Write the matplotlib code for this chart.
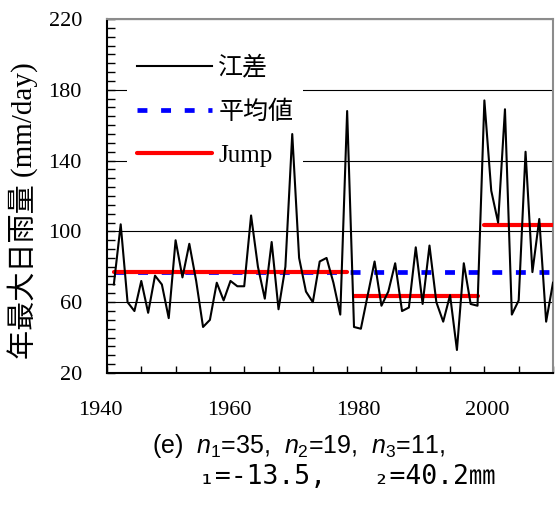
import numpy as np
import matplotlib
matplotlib.use("Agg")
import matplotlib.pyplot as plt
from matplotlib.ticker import MultipleLocator, FixedLocator, NullFormatter
from matplotlib.font_manager import FontProperties
from matplotlib.transforms import blended_transform_factory, offset_copy

# Annual maximum daily rainfall at Esashi, 1941-2005
years = list(range(1941, 2006))
rain = [70, 104, 60, 55, 72, 54, 75, 70, 51, 95, 74, 93, 72, 46, 50, 71, 61, 72,
        69, 69, 109, 80, 62, 94, 56, 80, 155, 85, 66, 60, 83, 85, 71, 53, 168,
        46, 45, 64, 83, 58, 66, 82, 55, 57, 91, 59, 92, 60, 49, 64, 33, 82, 59, 58,
        174, 123, 105, 169, 53, 61, 145, 77, 107, 49, 71]
segment_sizes = [35, 19, 11]
jumps = [-13.5, 40.2]

y_ticks = [20, 60, 100, 140, 180, 220]
x_tick_labels = [1940, 1960, 1980, 2000]
legend_labels = ["江差", "平均値", "Jump"]
y_label = "年最大日雨量 (mm/day)"

plt.rcParams["mathtext.fontset"] = "custom"
plt.rcParams["mathtext.rm"] = "Liberation Sans"
plt.rcParams["mathtext.it"] = "Liberation Sans:italic"

serif_cjk = ["Liberation Serif", "Noto Sans CJK JP"]

fig = plt.figure(figsize=(5.56, 5.05), dpi=100)
ax = fig.add_axes([0.1924, 0.2614, 0.8022, 0.7010])

# series
(l_obs,) = ax.plot(years, rain, color="black", lw=1.5, zorder=5)

mean_all = float(np.mean(rain))
(l_mean,) = ax.plot([years[0], years[-1]], [mean_all, mean_all], color="#0000ff",
                    lw=3.4, linestyle=(0, (2.1, 2.9)), dash_capstyle="butt", zorder=3)

# jump levels: first segment mean, then shifted by each jump
starts = np.cumsum([0] + segment_sizes[:-1])
levels = [float(np.mean(rain[:segment_sizes[0]]))]
for j in jumps:
    levels.append(levels[-1] + j)
l_jump = None
for s, n, lev in zip(starts, segment_sizes, levels):
    (l_jump,) = ax.plot([years[s], years[s + n - 1]], [lev, lev], color="#ff0000",
                        lw=3.0, solid_capstyle="round", zorder=4)

ax.set_xlim(1940, 2005)
ax.set_ylim(20, 220)

# axes styling
for side in ("left", "bottom"):
    ax.spines[side].set_color("black")
    ax.spines[side].set_linewidth(1.5)
for side in ("top", "right"):
    ax.spines[side].set_color("#8c8c8c")
    ax.spines[side].set_linewidth(1.5)

ax.xaxis.set_major_locator(MultipleLocator(5))
ax.xaxis.set_major_formatter(NullFormatter())
ax.tick_params(axis="x", which="major", direction="in", length=5, width=1, top=False)

ax.yaxis.set_major_locator(FixedLocator(y_ticks))
ax.yaxis.set_minor_locator(MultipleLocator(5))
ax.tick_params(axis="y", which="minor", direction="in", length=6, width=1, right=False)
ax.tick_params(axis="y", which="major", direction="in", length=6, width=1, right=False,
               labelsize=16, pad=18)
for lab in ax.get_yticklabels():
    lab.set_family("Liberation Serif")
ax.yaxis.grid(True, which="major", color="black", linewidth=0.8)
ax.set_axisbelow(True)

# year labels, spaced on their own scale below the axis
def label_pos(v):
    return 1939.1 + (v - 1940) * 0.939

lab_trans = offset_copy(blended_transform_factory(ax.transData, ax.transAxes),
                        fig=fig, y=-20, units="points")
for v in x_tick_labels:
    ax.text(label_pos(v), 0, str(v), transform=lab_trans, ha="center", va="top",
            family="Liberation Serif", fontsize=16, clip_on=False)

ax.set_ylabel(y_label, fontproperties=FontProperties(family=serif_cjk, size=21))
ax.yaxis.set_label_coords(-0.155, 0.458)

leg = ax.legend([l_obs, l_mean, l_jump], legend_labels,
                prop=FontProperties(family=serif_cjk, size=18),
                loc="upper left", bbox_to_anchor=(0.045, 0.925), borderaxespad=0,
                frameon=True, fancybox=False, edgecolor="none", facecolor="white",
                framealpha=1, handlelength=3.0, handletextpad=0.25,
                labelspacing=0.83, borderpad=0.4)
leg.set_zorder(2.5)

# caption
n1, n2, n3 = segment_sizes
fig.text(152 / 556, 1 - 446 / 505,
         rf"(e)  $n_1$={n1},  $n_2$={n2},  $n_3$={n3},",
         family="Liberation Sans", fontsize=18, ha="left", va="center")
fig.text(199 / 556, 1 - 477 / 505,
         f"₁={jumps[0]},   ₂={jumps[1]}㎜",
         family=["DejaVu Sans Mono", "Noto Sans CJK JP"], fontsize=19,
         ha="left", va="center")

fig.savefig("out.png", dpi=100)
